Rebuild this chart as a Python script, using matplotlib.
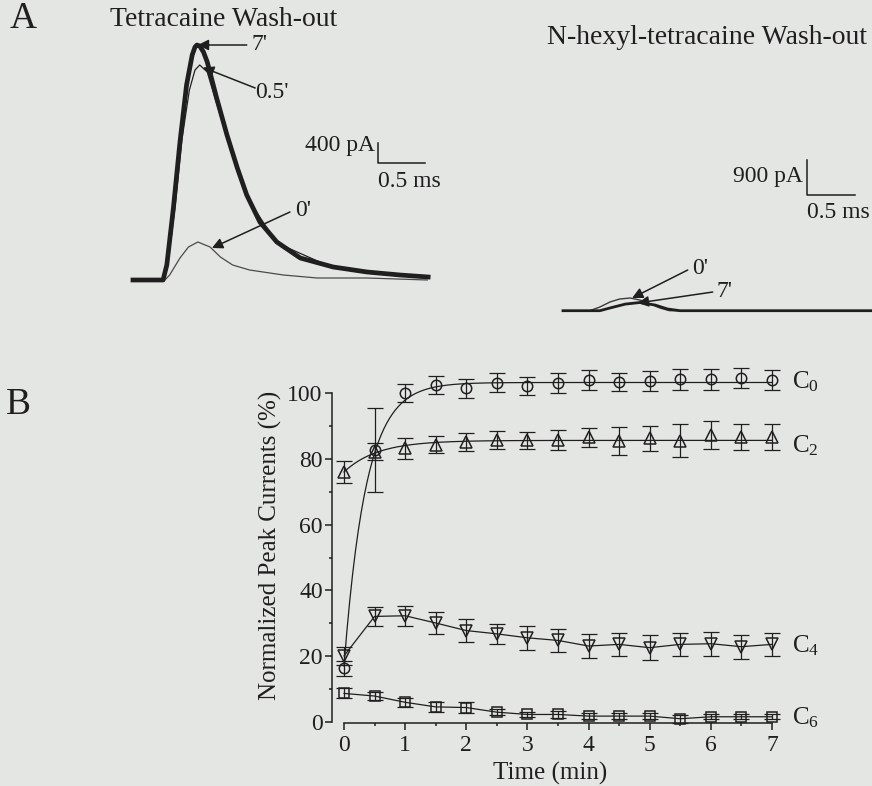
import numpy as np
import matplotlib
matplotlib.use('Agg')
import matplotlib.pyplot as plt
from matplotlib.ticker import MultipleLocator

plt.rcParams['font.family'] = ['Liberation Serif', 'DejaVu Serif']
plt.rcParams['mathtext.fontset'] = 'custom'
plt.rcParams['mathtext.rm'] = 'Liberation Serif'

INK = '#1f1f1f'
PAPER = '#e4e6e3'

# ---- panel A : current traces (ms, pA) ----
tetra_t = [0, 0.32, 0.36, 0.43, 0.50, 0.57, 0.63, 0.66, 0.68, 0.71, 0.75, 0.79, 0.89, 1.00,
           1.11, 1.21, 1.35, 1.53, 1.78, 2.13, 2.49, 2.84, 3.14]
tetra_7 = [0, 0, 300, 1440, 2760, 3900, 4500, 4660, 4700, 4680, 4560, 4360, 3640, 2900,
           2240, 1700, 1160, 760, 440, 260, 160, 100, 60]
tetra_05t = [0, 0.32, 0.37, 0.45, 0.52, 0.60, 0.66, 0.71, 0.79, 0.87, 1.00, 1.21, 1.53, 2.13, 3.14]
tetra_05 = [0, 0, 300, 1500, 2800, 3800, 4200, 4300, 4160, 3650, 2860, 1660, 740, 240, 40]
tetra_0t = [0, 0.34, 0.39, 0.50, 0.59, 0.69, 0.82, 0.93, 1.06, 1.24, 1.60, 1.96, 2.49, 3.13]
tetra_0 = [0, 0, 100, 440, 660, 760, 660, 460, 300, 200, 100, 40, 40, 0]

hexyl_0t = [0, 0.28, 0.385, 0.49, 0.59, 0.70, 0.80, 0.91, 1.01, 1.11, 3.22]
hexyl_0 = [0, 0, 95, 224, 300, 326, 275, 172, 69, 0, 0]
hexyl_7t = [0, 0.385, 0.49, 0.65, 0.80, 0.96, 1.09, 1.22, 3.22]
hexyl_7 = [0, 0, 70, 170, 210, 146, 44, 0, 0]

# ---- panel B : normalized peak currents (%) ----
time_min = [0, 0.5, 1, 1.5, 2, 2.5, 3, 3.5, 4, 4.5, 5, 5.5, 6, 6.5, 7]
c0_mean = [16.3, 82.7, 99.9, 102.4, 101.4, 103.1, 102.2, 103.1, 104.0, 103.4, 103.6, 104.2, 104.2, 104.5, 104.0]
c0_err = [2.2, 12.7, 2.7, 2.7, 2.8, 2.9, 2.7, 3.0, 3.0, 2.8, 3.0, 3.2, 3.2, 3.0, 3.0]
c2_mean = [76.1, 82.2, 83.2, 84.3, 85.1, 85.8, 85.6, 85.7, 86.5, 85.5, 86.2, 85.5, 87.2, 86.7, 86.7]
c2_err = [3.3, 2.7, 3.2, 2.5, 2.6, 2.7, 2.7, 3.0, 3.0, 4.2, 3.8, 5.0, 4.3, 4.0, 4.0]
c4_mean = [20.1, 32.1, 32.3, 30.1, 27.8, 26.8, 25.6, 24.8, 23.1, 23.6, 22.6, 23.6, 23.8, 22.9, 23.6]
c4_err = [2.8, 2.9, 3.0, 3.3, 3.4, 3.1, 3.7, 3.5, 3.6, 3.6, 3.8, 3.5, 3.6, 3.6, 3.5]
c6_mean = [8.7, 7.9, 6.0, 4.6, 4.4, 3.0, 2.3, 2.3, 1.8, 1.8, 1.8, 1.0, 1.6, 1.6, 1.6]
c6_err = [1.5, 1.2, 1.3, 1.5, 1.7, 1.0, 0.8, 1.0, 0.8, 0.8, 0.8, 1.2, 0.8, 0.8, 0.8]

# single exponential fits drawn through C0 and C2 (start, plateau, tau in min)
c0_fit = (17.0, 103.2, 0.36)
c2_fit = (76.0, 85.6, 0.55)

W, H = 872, 786
fig = plt.figure(figsize=(W / 100, H / 100), dpi=100, facecolor=PAPER)

def box(x0, y0, x1, y1):
    # pixel box -> figure fraction
    return [x0 / W, 1 - y1 / H, (x1 - x0) / W, (y1 - y0) / H]

arrow = dict(arrowstyle='-|>', color=INK, lw=1.1, mutation_scale=16, shrinkA=0, shrinkB=0)

# ---------------- panel A left ----------------
axL = fig.add_axes(box(120, 15, 440, 295))
axL.set_xlim(-0.138, 3.266)
axL.set_ylim(-300, 5300)
axL.axis('off')
axL.plot(tetra_0t, tetra_0, color='#4a4a4a', lw=0.9)
axL.plot(tetra_05t, tetra_05, color=INK, lw=0.9)
axL.plot(tetra_t, tetra_7, color=INK, lw=3.4, solid_joinstyle='round')
axL.plot([2.61, 2.61, 3.11], [2740, 2340, 2340], color=INK, lw=1.1)
axL.text(2.57, 2700, '400 pA', ha='right', va='center', fontsize=17, color=INK)
axL.text(2.61, 2180, '0.5 ms', ha='left', va='top', fontsize=17, color=INK)
axL.annotate('', xy=(0.69, 4700), xytext=(1.21, 4700), arrowprops=arrow)
axL.text(1.26, 4720, "7'", ha='left', va='center', fontsize=17, color=INK)
axL.annotate('', xy=(0.745, 4250), xytext=(1.30, 3840), arrowprops=arrow)
axL.text(1.30, 3760, "0.5'", ha='left', va='center', fontsize=17, color=INK)
axL.annotate('', xy=(0.84, 640), xytext=(1.67, 1360), arrowprops=arrow)
axL.text(1.72, 1400, "0'", ha='left', va='center', fontsize=17, color=INK)

# ---------------- panel A right ----------------
axR = fig.add_axes(box(555, 140, 872, 330))
axR.set_xlim(-0.083, 3.22)
axR.set_ylim(-496, 4387)
axR.axis('off')
axR.plot(hexyl_0t, hexyl_0, color='#3a3a3a', lw=1.0)
axR.plot(hexyl_7t, hexyl_7, color=INK, lw=2.0)
axR.plot([2.54, 2.54, 3.04], [3874, 2974, 2974], color=INK, lw=1.1)
axR.text(2.50, 3440, '900 pA', ha='right', va='center', fontsize=17, color=INK)
axR.text(2.54, 2800, '0.5 ms', ha='left', va='top', fontsize=17, color=INK)
axR.annotate('', xy=(0.72, 326), xytext=(1.30, 1046), arrowprops=arrow)
axR.text(1.35, 1080, "0'", ha='left', va='center', fontsize=17, color=INK)
axR.annotate('', xy=(0.78, 198), xytext=(1.56, 480), arrowprops=arrow)
axR.text(1.60, 500, "7'", ha='left', va='center', fontsize=17, color=INK)

fig.text(10 / W, 1 - 19 / H, 'A', fontsize=27, color=INK, ha='left', va='center')
fig.text(110 / W, 1 - 19 / H, 'Tetracaine Wash-out', fontsize=20, color=INK, ha='left', va='center')
fig.text(547 / W, 1 - 38 / H, 'N-hexyl-tetracaine Wash-out', fontsize=20, color=INK,
         ha='left', va='center')

# ---------------- panel B ----------------
fig.text(6 / W, 1 - 405 / H, 'B', fontsize=27, color=INK, ha='left', va='center')
axB = fig.add_axes(box(328.7, 366.7, 787.3, 731.9))
axB.set_facecolor('none')
axB.set_xlim(-0.25, 7.25)
axB.set_ylim(-3, 108)

tt = np.linspace(0, 7, 300)
for y0, top, tau in (c0_fit, c2_fit):
    axB.plot(tt, top - (top - y0) * np.exp(-tt / tau), color=INK, lw=0.9)
axB.plot(time_min, c4_mean, color=INK, lw=0.9)
axB.plot(time_min, c6_mean, color=INK, lw=0.9)

series = [(c0_mean, c0_err, 'o', 7.5), (c2_mean, c2_err, '^', 8.0),
          (c4_mean, c4_err, 'v', 8.0), (c6_mean, c6_err, 's', 6.5)]
for mean, err, mk, ms in series:
    axB.errorbar(time_min, mean, yerr=err, fmt='none', ecolor=INK, elinewidth=0.9,
                 capsize=5.5, capthick=0.9)
    axB.plot(time_min, mean, ls='none', marker=mk, ms=ms, mfc='none', mec=INK, mew=1.1)

labels = [(r'$\mathregular{C_0}$', 103.4), (r'$\mathregular{C_2}$', 84.0),
          (r'$\mathregular{C_4}$', 23.3), (r'$\mathregular{C_6}$', 1.3)]
for txt, yv in labels:
    axB.text(7.33, yv, txt, ha='left', va='center', fontsize=18, color=INK)

for side in ('top', 'right'):
    axB.spines[side].set_visible(False)
axB.spines['left'].set_position(('data', -0.2))
axB.spines['bottom'].set_position(('data', -0.2))
axB.spines['left'].set_bounds(0, 100)
axB.spines['bottom'].set_bounds(0, 7)
for side in ('left', 'bottom'):
    axB.spines[side].set_linewidth(1.1)
    axB.spines[side].set_color(INK)

axB.xaxis.set_major_locator(MultipleLocator(1))
axB.xaxis.set_minor_locator(MultipleLocator(0.5))
axB.yaxis.set_major_locator(MultipleLocator(20))
axB.yaxis.set_minor_locator(MultipleLocator(10))
axB.tick_params(which='major', length=5, width=1.1, color=INK, labelsize=17,
                labelcolor=INK)
axB.tick_params(which='minor', length=2.5, width=1.1, color=INK)
axB.tick_params(axis='x', which='major', pad=4)
axB.tick_params(axis='y', which='major', pad=1.5)

fig.text(270 / W, 1 - 545 / H, 'Normalized Peak Currents (%)', rotation=90, fontsize=18,
         color=INK, ha='center', va='center')
fig.text(550 / W, 1 - 773 / H, 'Time (min)', fontsize=18, color=INK, ha='center', va='center')

fig.savefig('out.png', dpi=100, facecolor=PAPER)
